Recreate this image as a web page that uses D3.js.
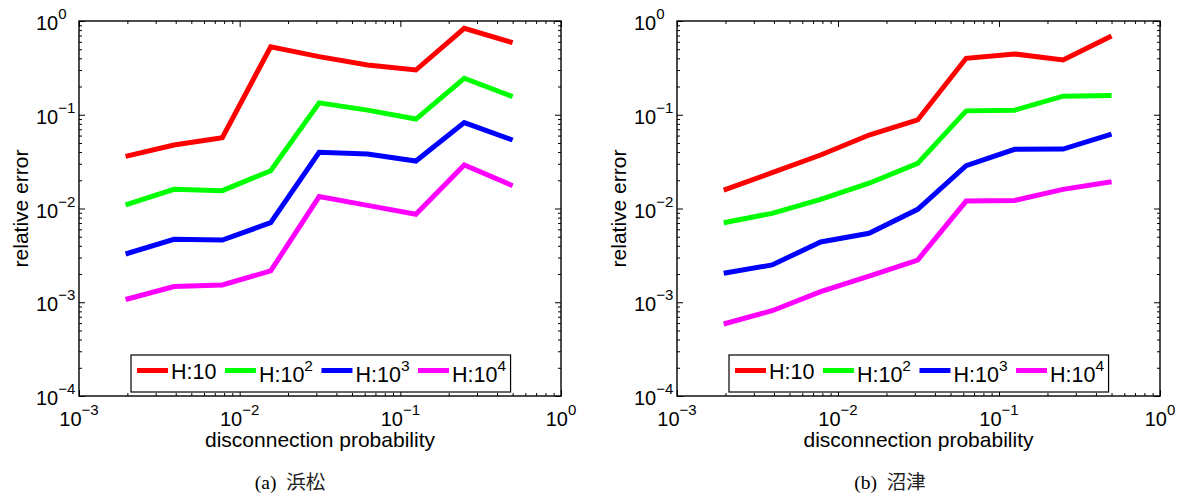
<!DOCTYPE html>
<html>
<head>
<meta charset="utf-8">
<script src="https://cdn.jsdelivr.net/npm/d3@7"></script>
<style>
  html, body { margin: 0; padding: 0; background: #fff; }
  svg { display: block; }
  text { font-family: "Liberation Sans", Arial, Helvetica, sans-serif; fill: #000; }
</style>
</head>
<body>
<svg id="chart" width="1184" height="497"></svg>
<script>
// ---------- data ----------
const probabilities = [0.00195, 0.0039, 0.0078, 0.0156, 0.03125, 0.0625, 0.125, 0.25, 0.5];

const seriesNames = ["H:10", "H:10", "H:10", "H:10"];
const seriesSup   = ["", "2", "3", "4"];
const seriesColors = ["#ff0000", "#00ff00", "#0000ff", "#ff00ff"];

// (a) Hamamatsu
const hamamatsuH10    = [0.036, 0.0475, 0.057, 0.53, 0.417, 0.34, 0.30, 0.836, 0.587];
const hamamatsuH100   = [0.0109, 0.016, 0.0155, 0.0253, 0.134, 0.112, 0.090, 0.245, 0.156];
const hamamatsuH1000  = [0.00327, 0.0047, 0.0046, 0.00706, 0.0397, 0.0381, 0.0321, 0.0824, 0.0538];
const hamamatsuH10000 = [0.00107, 0.00147, 0.00153, 0.00216, 0.0134, 0.0108, 0.00867, 0.0291, 0.0175];

// (b) Numazu
const numazuH10    = [0.0157, 0.0241, 0.0372, 0.0608, 0.088, 0.40, 0.445, 0.384, 0.692];
const numazuH100   = [0.00706, 0.00888, 0.0125, 0.0186, 0.0303, 0.110, 0.112, 0.158, 0.16];
const numazuH1000  = [0.00204, 0.0025, 0.0044, 0.00544, 0.0098, 0.0286, 0.0428, 0.043, 0.0623];
const numazuH10000 = [0.000586, 0.000812, 0.0013, 0.0019, 0.00282, 0.012, 0.0122, 0.016, 0.0193];

const xTickValues = [0.001, 0.01, 0.1, 1];
const xTickExp = ["\u22123", "\u22122", "\u22121", "0"];
const yTickValues = [0.0001, 0.001, 0.01, 0.1, 1];
const yTickExp = ["\u22124", "\u22123", "\u22122", "\u22121", "0"];

const xLabel = "disconnection probability";
const yLabel = "relative error";
const captionTags = ["(a)", "(b)"];
const captionCities = ["浜松", "沼津"];

// ---------- drawing ----------
const svg = d3.select("#chart");

const panels = [
  { left: 79, right: 561, series: [hamamatsuH10, hamamatsuH100, hamamatsuH1000, hamamatsuH10000], capX: 290 },
  { left: 677, right: 1160, series: [numazuH10, numazuH100, numazuH1000, numazuH10000], capX: 890 }
];
const plotTop = 21, plotBottom = 396;

function minorTicks(lo, hi) {
  const out = [];
  for (let e = Math.round(Math.log10(lo)); e < Math.round(Math.log10(hi)); e++) {
    for (let m = 2; m <= 9; m++) out.push(m * Math.pow(10, e));
  }
  return out;
}

panels.forEach((p, pi) => {
  const x = d3.scaleLog().domain([1e-3, 1]).range([p.left, p.right]);
  const y = d3.scaleLog().domain([1e-4, 1]).range([plotBottom, plotTop]);
  const g = svg.append("g");
  const W = p.right - p.left, H = plotBottom - plotTop;

  g.append("rect").attr("x", p.left).attr("y", plotTop).attr("width", W).attr("height", H)
    .attr("fill", "#fff");

  // ticks on all four sides, inward
  const xMinor = minorTicks(1e-3, 1), yMinor = minorTicks(1e-4, 1);
  const axes = [
    [() => d3.axisBottom(x), `translate(0,${plotBottom})`, xTickValues, xMinor],
    [() => d3.axisTop(x), `translate(0,${plotTop})`, xTickValues, xMinor],
    [() => d3.axisLeft(y), `translate(${p.left},0)`, yTickValues, yMinor],
    [() => d3.axisRight(y), `translate(${p.right},0)`, yTickValues, yMinor]
  ];
  axes.forEach(([mk, tr, major, minor]) => {
    g.append("g").attr("transform", tr)
      .call(mk().tickValues(major).tickSize(-6).tickFormat(() => ""))
      .call(s => s.select(".domain").remove())
      .call(s => s.selectAll("line").attr("stroke", "#000").attr("stroke-width", 1));
    g.append("g").attr("transform", tr)
      .call(mk().tickValues(minor).tickSize(-3).tickFormat(() => ""))
      .call(s => s.select(".domain").remove())
      .call(s => s.selectAll("line").attr("stroke", "#000").attr("stroke-width", 1));
  });

  // series lines
  const line = d3.line().x((d, i) => x(probabilities[i])).y(d => y(d));
  p.series.forEach((vals, si) => {
    g.append("path").datum(vals)
      .attr("d", line)
      .attr("fill", "none")
      .attr("stroke", seriesColors[si])
      .attr("stroke-width", 5)
      .attr("stroke-linejoin", "miter");
  });

  // frame
  g.append("rect").attr("x", p.left).attr("y", plotTop).attr("width", W).attr("height", H)
    .attr("fill", "none").attr("stroke", "#000").attr("stroke-width", 1.4);

  // x tick labels
  xTickValues.forEach((v, i) => {
    const t = g.append("text").attr("x", x(v)).attr("y", plotBottom + 30)
      .attr("text-anchor", "middle").style("font-size", "20px");
    t.append("tspan").text("10");
    t.append("tspan").attr("dy", -11).style("font-size", "15px").text(xTickExp[i]);
  });
  // y tick labels
  yTickValues.forEach((v, i) => {
    const t = g.append("text").attr("x", p.left - 43).attr("y", y(v) + 9)
      .attr("text-anchor", "start").style("font-size", "20px");
    t.append("tspan").text("10");
    t.append("tspan").attr("dy", -11).style("font-size", "15px").text(yTickExp[i]);
  });

  // axis labels
  g.append("text").attr("x", (p.left + p.right) / 2).attr("y", plotBottom + 51)
    .attr("text-anchor", "middle").style("font-size", "21px").text(xLabel);
  g.append("text").attr("transform", `translate(${p.left - 51},${(plotTop + plotBottom) / 2}) rotate(-90)`)
    .attr("text-anchor", "middle").style("font-size", "21px").text(yLabel);

  // legend
  const lg = g.append("g");
  const box = lg.append("rect").attr("fill", "#fff").attr("stroke", "#000").attr("stroke-width", 1.2);
  const ly = 370.5;
  let cx = p.left + 58;
  seriesNames.forEach((nm, si) => {
    lg.append("line").attr("x1", cx).attr("x2", cx + 31).attr("y1", ly).attr("y2", ly)
      .attr("stroke", seriesColors[si]).attr("stroke-width", 5);
    const t = lg.append("text").attr("x", cx + 34).attr("y", seriesSup[si] ? ly + 11 : ly + 8)
      .style("font-size", "21.5px");
    t.append("tspan").text(nm);
    if (seriesSup[si]) t.append("tspan").attr("dy", -11).style("font-size", "15.5px").text(seriesSup[si]);
    const w = t.node().getComputedTextLength();
    cx = cx + 34 + w + 8.5;
  });
  const boxL = p.left + 52;
  box.attr("x", boxL).attr("y", 355).attr("width", cx - 4 - boxL).attr("height", 37);

  // caption
  const c = svg.append("text").attr("x", p.capX).attr("y", 489).attr("text-anchor", "middle")
    .style("font-size", "19.5px");
  c.append("tspan").style("font-family", "'Liberation Serif', 'Times New Roman', serif").text(captionTags[pi] + "\u00a0\u00a0");
  c.append("tspan").style("font-family", "'Noto Sans CJK JP', sans-serif").style("fill", "#222").text(captionCities[pi]);
});
</script>
</body>
</html>
